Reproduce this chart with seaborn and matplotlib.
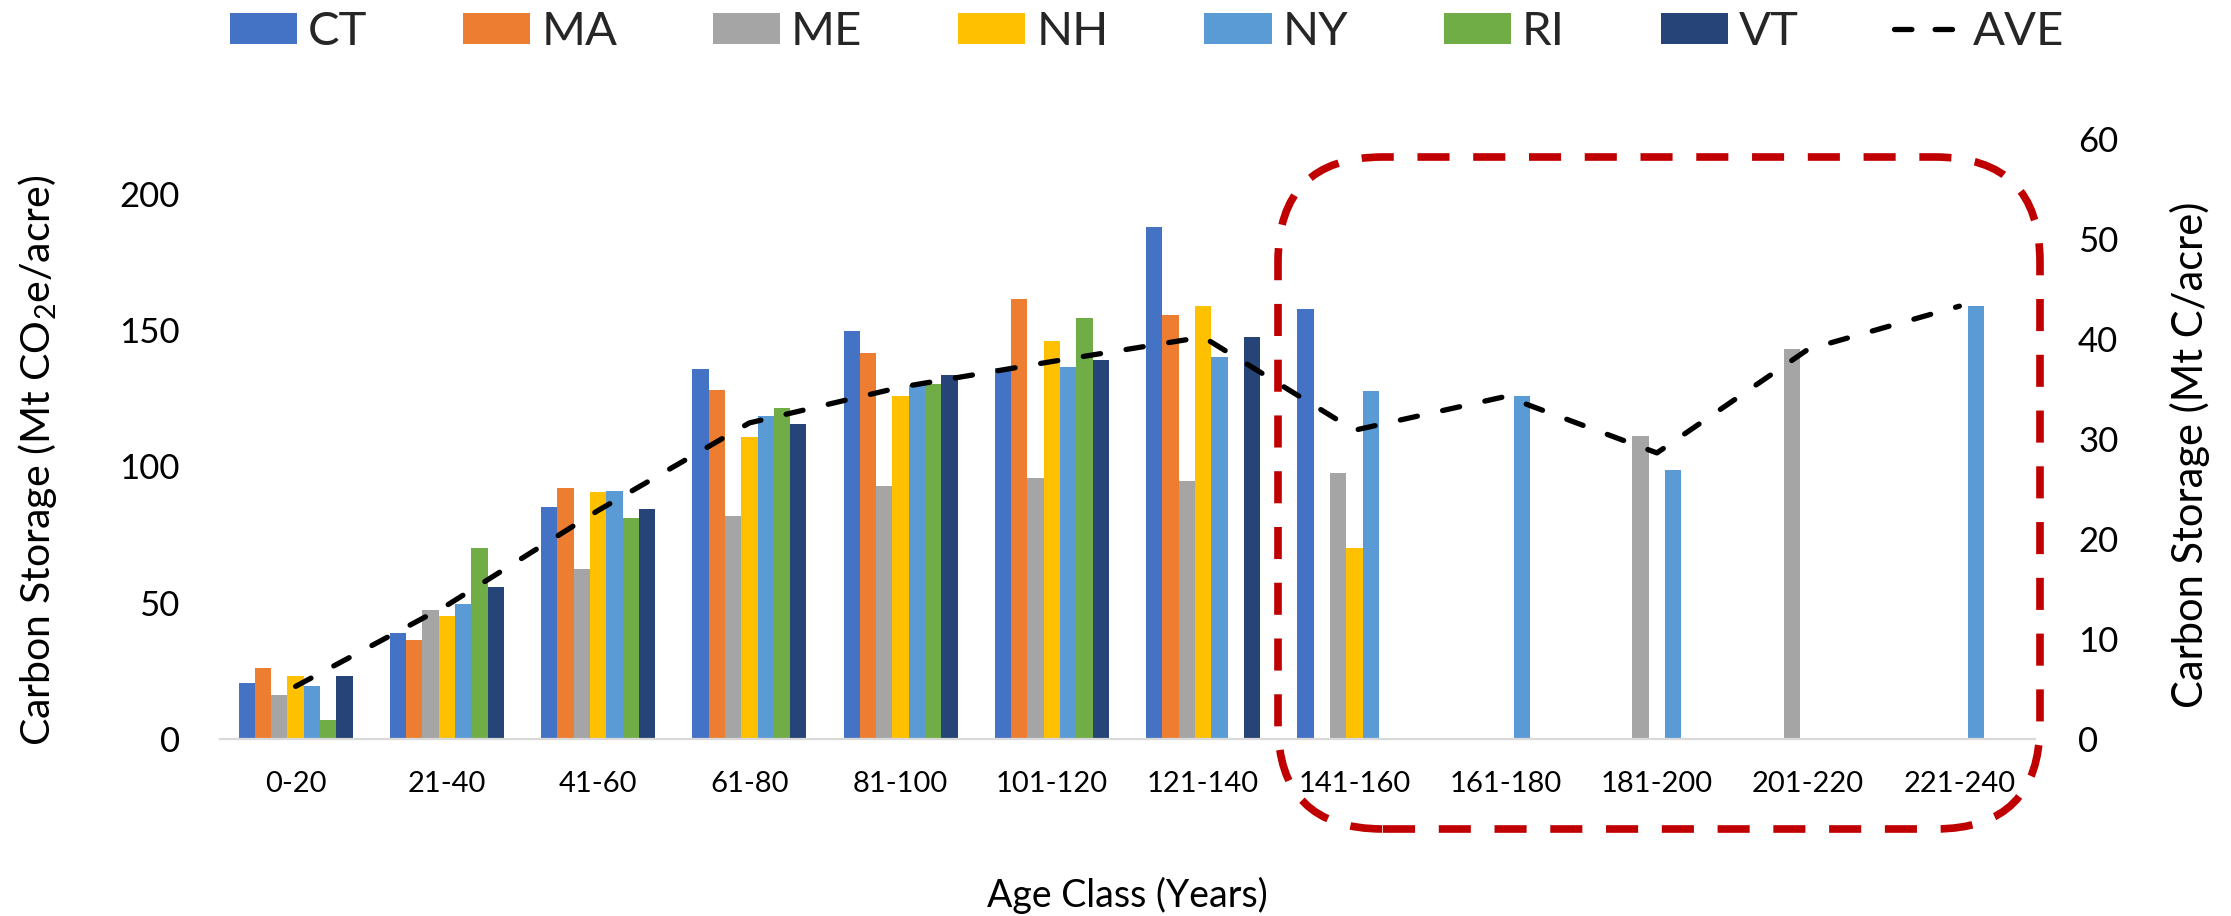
import numpy as np
import pandas as pd
import matplotlib
matplotlib.use("Agg")
import matplotlib.pyplot as plt
import seaborn as sns
from matplotlib.patches import FancyBboxPatch, Patch
from matplotlib.lines import Line2D

nan = np.nan

# Forest age classes (years)
ages = ["0-20", "21-40", "41-60", "61-80", "81-100", "101-120", "121-140",
        "141-160", "161-180", "181-200", "201-220", "221-240"]

# Carbon storage per state, Mt CO2e/acre (blank where no stands exist)
ct = [20.4, 38.9, 85.0, 135.8, 149.5, 136.1, 187.8, 157.7, nan, nan, nan, nan]
ma = [26.0, 36.2, 92.2, 127.8, 141.4, 161.4, 155.6, nan, nan, nan, nan, nan]
me = [16.1, 47.3, 62.5, 81.8, 92.6, 95.7, 94.6, 97.6, nan, 111.2, 142.9, nan]
nh = [23.0, 45.0, 90.6, 110.9, 125.9, 146.0, 158.9, 70.1, nan, nan, nan, nan]
ny = [19.5, 49.6, 90.8, 118.3, 129.9, 136.4, 140.2, 127.5, 125.6, 98.6, nan, 158.7]
ri = [7.0, 70.0, 81.1, 121.2, 130.2, 154.2, nan, nan, nan, nan, nan, nan]
vt = [23.0, 55.7, 84.4, 115.6, 133.4, 139.0, 147.5, nan, nan, nan, nan, nan]

# Regional average, Mt CO2e/acre
ave = [19.3, 49.0, 83.8, 115.9, 129.0, 138.4, 147.4, 113.2, 125.6, 104.9, 142.9, 158.7]

states = ["CT", "MA", "ME", "NH", "NY", "RI", "VT"]
colors = ["#4472C4", "#ED7D31", "#A5A5A5", "#FFC000", "#5B9BD5", "#70AD47", "#264478"]

df = pd.DataFrame({"age": ages, "CT": ct, "MA": ma, "ME": me, "NH": nh,
                   "NY": ny, "RI": ri, "VT": vt})
long = df.melt(id_vars="age", var_name="state", value_name="storage").dropna()

sns.set_theme(style="white")
plt.rcParams["font.family"] = ["Lato", "DejaVu Sans"]

W, H = 2231, 916
fig = plt.figure(figsize=(W / 100, H / 100), dpi=100)
ax = fig.add_axes([220 / W, (H - 739) / H, (2035 - 220) / W, (739 - 139) / H])

sns.barplot(data=long, x="age", y="storage", hue="state", order=ages,
            hue_order=states, palette=colors, width=0.754, gap=0,
            errorbar=None, linewidth=0, saturation=1, legend=False, ax=ax)

sns.pointplot(x=ages, y=ave, order=ages, color="black", errorbar=None, ax=ax)
for ln in ax.lines:
    ln.set_marker("")
    ln.set_linewidth(3.8)
    ln.set_linestyle((0, (3.3, 4.9)))
    ln.set_dash_capstyle("round")
    ln.set_zorder(5)

ax.set_xlim(-0.5, len(ages) - 0.5)
ax.set_ylim(0, 220)
ax.set_yticks([0, 50, 100, 150, 200])
for s in ["top", "left", "right"]:
    ax.spines[s].set_visible(False)
ax.spines["bottom"].set_color("#D9D9D9")
ax.spines["bottom"].set_linewidth(1.6)
ax.tick_params(axis="y", length=0, labelsize=25, pad=29, labelcolor="black")
ax.tick_params(axis="x", length=0, labelsize=21, pad=23, labelcolor="black")
ax.grid(False)

ax.set_ylabel("Carbon Storage (Mt CO$_\\mathregular{2}$e/acre)", fontsize=29.5, color="black")
ax.yaxis.label.set_verticalalignment("center")
ax.yaxis.set_label_coords(-0.1003, 0.465)
ax.set_xlabel("Age Class (Years)", fontsize=27, color="black")
ax.xaxis.label.set_verticalalignment("center")
ax.xaxis.set_label_coords(0.5, -0.26)

# Secondary axis in carbon units (CO2e / 3.667)
ax2 = ax.twinx()
ax2.set_ylim(0, 60)
ax2.set_yticks([0, 10, 20, 30, 40, 50, 60])
for s in ax2.spines.values():
    s.set_visible(False)
ax2.tick_params(axis="y", length=0, labelsize=25, pad=31, labelcolor="black")
ax2.grid(False)
ax2.set_ylabel("Carbon Storage (Mt C/acre)", fontsize=30, color="black")
ax2.yaxis.label.set_verticalalignment("center")
ax2.yaxis.set_label_coords(1.0854, 0.473)

# Highlight of the old-growth age classes
box = FancyBboxPatch((12.78, 0.87), 7.62, 6.72,
                     boxstyle="round,pad=0,rounding_size=1.05",
                     transform=fig.dpi_scale_trans, fill=False,
                     edgecolor="#C00000", linewidth=5.5,
                     linestyle=(0, (4.2, 3.1)), zorder=10)
fig.add_artist(box)

handles = [Patch(facecolor=c, edgecolor="none", label=s) for s, c in zip(states, colors)]
handles.append(Line2D([], [], color="black", linewidth=3.8,
                      linestyle=(0, (3.3, 4.4)), dash_capstyle="round", label="AVE"))
fig.legend(handles=handles, loc="center", bbox_to_anchor=(1147 / W, 1 - 32 / H),
           ncol=8, frameon=False, fontsize=34, handlelength=1.42,
           handleheight=0.64, handletextpad=0.23, columnspacing=2.03,
           borderaxespad=0, borderpad=0)

fig.savefig("out.png", dpi=100)
